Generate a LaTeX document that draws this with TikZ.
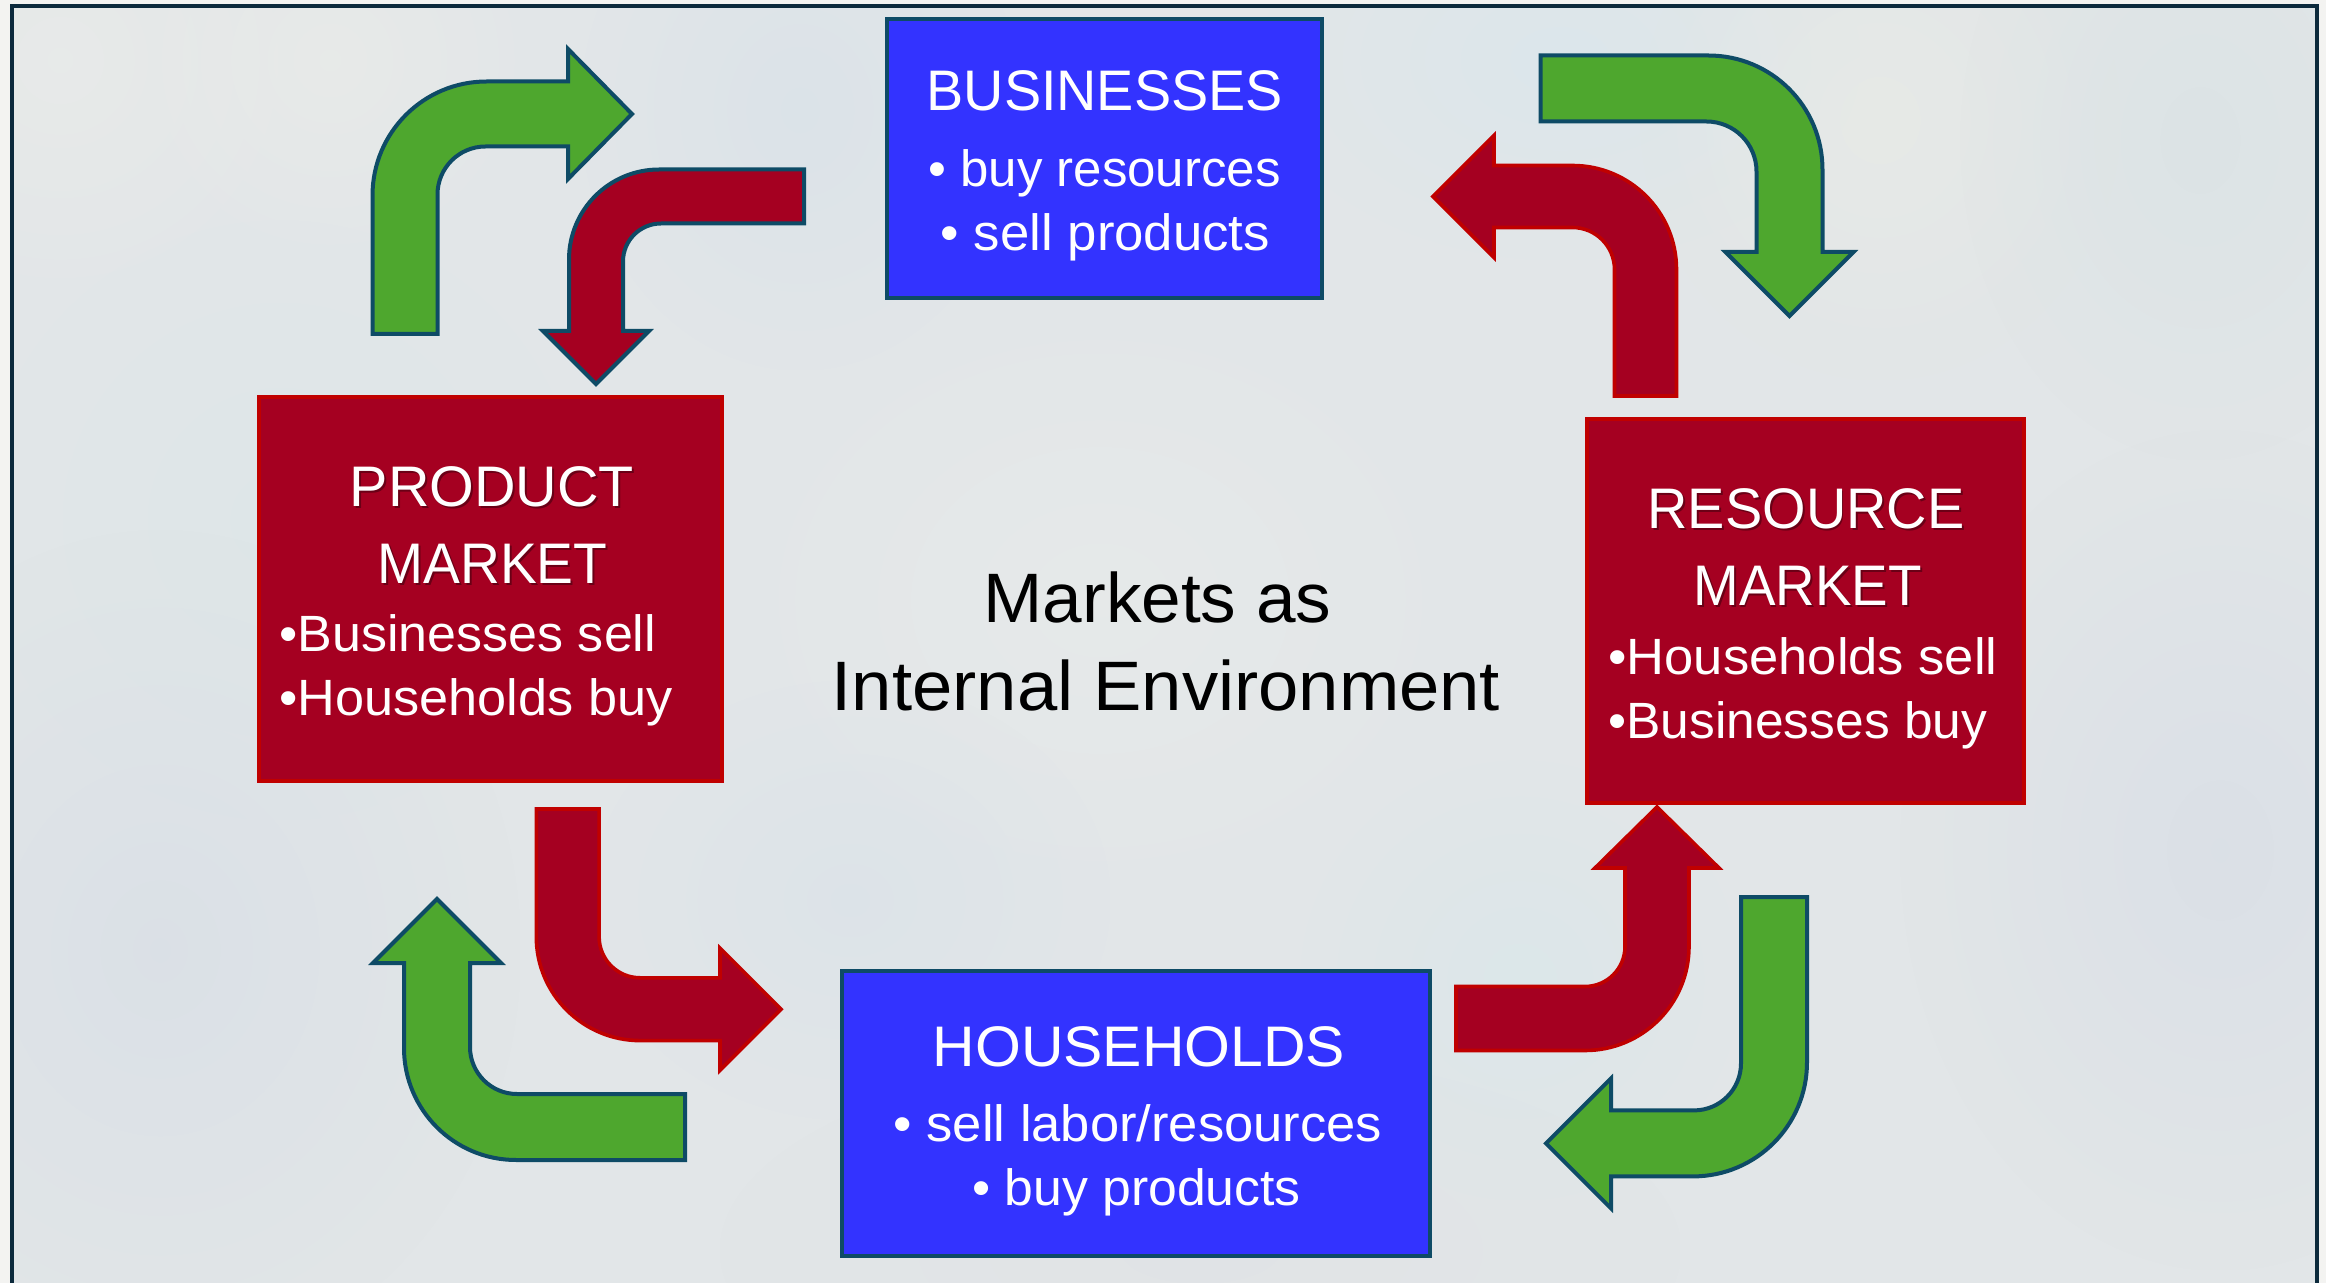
\documentclass[tikz,border=0pt]{standalone}
\usepackage{fontspec}
\setmainfont{Liberation Sans}
\usetikzlibrary{calc,fadings}
\definecolor{teal}{HTML}{0E4B66}
\definecolor{framecol}{HTML}{0C2A3C}
\definecolor{redfill}{HTML}{A50021}
\definecolor{redline}{HTML}{C00000}
\definecolor{redshade}{HTML}{6A0016}
\definecolor{greenfill}{HTML}{4EA72E}
\definecolor{bluefill}{HTML}{3333FF}
\tikzfading[name=softblob, inner color=transparent!0, outer color=transparent!100]
\newcommand\sx[2]{\scalebox{#1}[1]{#2}}
\newcommand\shadowtxt[2]{\sx{#1}{\rlap{\raisebox{-1pt}{\hspace{1pt}\textcolor{redshade}{#2}}}#2}}
\tikzset{
  x=0.5pt, y=-0.5pt,
  bluebox/.style={draw=teal, line width=2pt, fill=bluefill, rectangle, inner sep=0pt},
  redbox/.style={draw=redline, line width=2pt, fill=redfill, rectangle, inner sep=0pt},
  greenarrow/.style={draw=teal, line width=2pt, fill=greenfill, miter limit=10},
  redarrow/.style={draw=redline, line width=1.8pt, fill=redfill, miter limit=10},
  redarrowdark/.style={draw=teal, line width=2pt, fill=redfill, miter limit=10},
  boxtitle/.style={text=white, inner sep=0pt, anchor=base, font=\fontsize{28.6}{32}\selectfont},
  boxbody/.style={text=white, inner sep=0pt, anchor=base, font=\fontsize{25.5}{30}\selectfont},
  boxbodyl/.style={boxbody, anchor=base west},
  midtext/.style={text=black, inner sep=0pt, anchor=base, font=\fontsize{35}{40}\selectfont},
}
% tail leaves vertically, head ends horizontally
\newcommand\vtailarrow[8]{%
\draw[#1] let \p1=(#2), \p2=(#3), \n1={sign(\x2-\x1)}, \n2={sign(\y2-\y1)} in
  (\x1-\n1*#4pt,\y1) [rounded corners=#7pt] -- (\x1-\n1*#4pt,\y2+\n2*#4pt) [sharp corners]
  -- (\x2-\n1*#6pt,\y2+\n2*#4pt) -- (\x2-\n1*#6pt,\y2+\n2*#5pt) -- (\x2,\y2)
  -- (\x2-\n1*#6pt,\y2-\n2*#5pt) -- (\x2-\n1*#6pt,\y2-\n2*#4pt) [rounded corners=#8pt]
  -- (\x1+\n1*#4pt,\y2-\n2*#4pt) [sharp corners] -- (\x1+\n1*#4pt,\y1) -- cycle;}
% tail leaves horizontally, head ends vertically
\newcommand\htailarrow[8]{%
\draw[#1] let \p1=(#2), \p2=(#3), \n1={sign(\x2-\x1)}, \n2={sign(\y2-\y1)} in
  (\x1,\y1-\n2*#4pt) [rounded corners=#7pt] -- (\x2+\n1*#4pt,\y1-\n2*#4pt) [sharp corners]
  -- (\x2+\n1*#4pt,\y2-\n2*#6pt) -- (\x2+\n1*#5pt,\y2-\n2*#6pt) -- (\x2,\y2)
  -- (\x2-\n1*#5pt,\y2-\n2*#6pt) -- (\x2-\n1*#4pt,\y2-\n2*#6pt) [rounded corners=#8pt]
  -- (\x2-\n1*#4pt,\y1+\n2*#4pt) [sharp corners] -- (\x1,\y1+\n2*#4pt) -- cycle;}
\newcommand\blotch[5]{\fill[#5, opacity=.6, path fading=softblob] (#1-#3,#2-#4) rectangle (#1+#3,#2+#4);}
\begin{document}
\begin{tikzpicture}
\useasboundingbox (0,0) rectangle (2326,1283);
% backdrop
\fill[color={rgb,255:red,243;green,243;blue,241}] (0,0) rectangle (2326,1283);
\begin{scope}
\clip (11.5,6.5) rectangle (2317,1283);
\fill[color={rgb,255:red,226;green,230;blue,232}] (0,0) rectangle (2326,1283);
\blotch{60}{60}{260}{260}{color={rgb,255:red,236;green,237;blue,234}}
\blotch{330}{60}{220}{220}{color={rgb,255:red,236;green,237;blue,233}}
\blotch{800}{110}{220}{260}{color={rgb,255:red,215;green,225;blue,232}}
\blotch{1560}{60}{300}{200}{color={rgb,255:red,216;green,231;blue,238}}
\blotch{1880}{120}{240}{260}{color={rgb,255:red,234;green,236;blue,230}}
\blotch{2200}{140}{240}{320}{color={rgb,255:red,216;green,226;blue,228}}
\blotch{2220}{850}{320}{420}{color={rgb,255:red,214;green,220;blue,230}}
\blotch{1100}{600}{420}{340}{color={rgb,255:red,233;green,236;blue,235}}
\blotch{1200}{1250}{480}{200}{color={rgb,255:red,224;green,226;blue,229}}
\blotch{1520}{980}{220}{220}{color={rgb,255:red,216;green,232;blue,235}}
\blotch{280}{520}{300}{300}{color={rgb,255:red,220;green,230;blue,232}}
\blotch{160}{950}{360}{420}{color={rgb,255:red,214;green,221;blue,230}}
\blotch{850}{900}{260}{220}{color={rgb,255:red,217;green,226;blue,232}}
\end{scope}
\draw[framecol, line width=2pt] (11.5,1290) |- (2317,6.5) -- (2317,1290);
% boxes
\node[bluebox, minimum width=217.5pt, minimum height=139.5pt] (businesses) at (1104.75,158.25) {};
\node[bluebox, minimum width=294pt, minimum height=142.5pt] (households) at (1136.25,1113.5) {};
\node[redbox, minimum width=231.5pt, minimum height=192pt] (product) at (490.5,589) {};
\node[redbox, minimum width=218.25pt, minimum height=192pt] (resource) at (1805.25,611) {};
% box texts
\node[boxtitle] (tBus) at (1104.75,110.7) {\sx{.975}{BUSINESSES}};
\node[boxbody] (tBus1) at (1104.5,187) {• buy resources};
\node[boxbody] (tBus2) at (1105.5,251) {\sx{1.034}{• sell products}};
\node[boxtitle] (tHou) at (1139,1066) {\sx{1.03}{HOUSEHOLDS}};
\node[boxbody] (tHou1) at (1138,1141) {\sx{1.03}{• sell labor/resources}};
\node[boxbody] (tHou2) at (1136.5,1205) {\sx{1.015}{• buy products}};
\node[boxtitle] (tPro1) at (492,506.7) {\shadowtxt{1.005}{PRODUCT}};
\node[boxtitle] (tPro2) at (492.5,584) {\shadowtxt{.965}{MARKET}};
\node[boxbodyl] (tPro3) at (279,652) {\sx{1.02}{•Businesses sell}};
\node[boxbodyl] (tPro4) at (279,715.5) {\sx{1.025}{•Households buy}};
\node[boxtitle] (tRes1) at (1806,529) {\shadowtxt{.977}{RESOURCE}};
\node[boxtitle] (tRes2) at (1807.5,606) {\shadowtxt{.957}{MARKET}};
\node[boxbodyl] (tRes3) at (1608,674.5) {\sx{1.03}{•Households sell}};
\node[boxbodyl] (tRes4) at (1608,738) {\sx{1.01}{•Businesses buy}};
\node[midtext] (mid1) at (1157.5,622.7) {\sx{1.016}{Markets as}};
\node[midtext] (mid2) at (1166,710.7) {\sx{1.035}{Internal Environment}};
% arrow ends
\coordinate (g1t) at (405,334);     \coordinate (g1h) at (632,114);
\coordinate (r1t) at (804,196.5);   \coordinate (r1h) at (596,384);
\coordinate (g2t) at (1540.6,88.5); \coordinate (g2h) at (1789.5,316);
\coordinate (r2t) at (1645.5,396);  \coordinate (r2h) at (1433,196.5);
\coordinate (r3t) at (567.7,809);   \coordinate (r3h) at (781,1009.2);
\coordinate (g3t) at (685,1127);    \coordinate (g3h) at (437,899);
\coordinate (r4t) at (1456,1018.5); \coordinate (r4h) at (1657,807);
\coordinate (g4t) at (1774,897);    \coordinate (g4h) at (1546,1143.4);
% arrows
\vtailarrow{greenarrow}{g1t}{g1h}{16.25}{32.5}{32}{57}{24}
\htailarrow{redarrowdark}{r1t}{r1h}{13.5}{26.5}{26.5}{45}{19}
\htailarrow{greenarrow}{g2t}{g2h}{16.5}{32}{32}{57}{25}
\vtailarrow{redarrow}{r2t}{r2h}{15.5}{30.5}{30.5}{52}{21}
\vtailarrow{redarrow}{r3t}{r3h}{15.7}{30.5}{30.5}{52}{20.5}
\htailarrow{greenarrow}{g3t}{g3h}{16.5}{32}{32}{56}{23.5}
\htailarrow{redarrow}{r4t}{r4h}{16}{31}{30.5}{52}{20}
\vtailarrow{greenarrow}{g4t}{g4h}{16.5}{32.5}{32.5}{57}{23.5}
\end{tikzpicture}
\end{document}
